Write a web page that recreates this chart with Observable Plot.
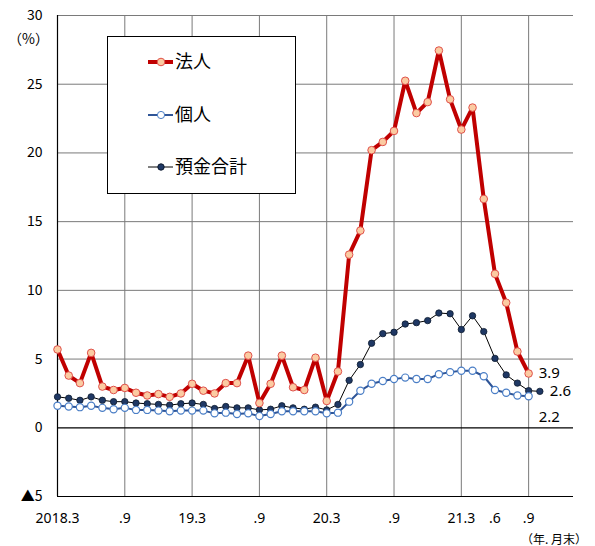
<!DOCTYPE html>
<html>
<head>
<meta charset="utf-8">
<script src="https://cdn.jsdelivr.net/npm/d3@7"></script>
<script src="https://cdn.jsdelivr.net/npm/@observablehq/plot@0.6"></script>
<style>
  html, body { margin: 0; padding: 0; background: #fff; }
  #wrap { position: relative; width: 595px; height: 546px; overflow: hidden; font-family: "Noto Sans", "Noto Sans CJK JP", sans-serif; }
  #wrap svg { display: block; }
  .note { position: absolute; font-size: 14px; color: #000; white-space: nowrap; font-family: "Noto Sans CJK JP", sans-serif; }
  #legend { position: absolute; left: 107px; top: 36px; }
</style>
</head>
<body>
<div id="wrap"></div>
<script>
// ---- data (month index 0 = 2018.3) ----
const seriesNames = ["法人", "個人", "預金合計"];
const corp = [5.7, 3.8, 3.25, 5.45, 3.0, 2.75, 2.9, 2.55, 2.35, 2.45, 2.25, 2.5, 3.2, 2.7, 2.5, 3.25, 3.25,
  5.25, 1.8, 3.2, 5.25, 2.95, 2.75, 5.1, 1.95, 4.1, 12.6, 14.35, 20.2, 20.8, 21.6, 25.25, 22.9, 23.7,
  27.45, 23.9, 21.7, 23.3, 16.65, 11.2, 9.1, 5.55, 3.95];
const indiv = [1.6, 1.55, 1.5, 1.6, 1.45, 1.35, 1.45, 1.3, 1.3, 1.25, 1.2, 1.25, 1.25, 1.25, 1.05, 1.1, 1.0,
  1.05, 0.85, 1.0, 1.2, 1.2, 1.2, 1.2, 1.05, 1.1, 1.9, 2.7, 3.2, 3.4, 3.55, 3.65, 3.55, 3.55, 3.9, 4.05,
  4.15, 4.15, 3.75, 2.75, 2.55, 2.35, 2.3];
const total = [2.25, 2.15, 2.0, 2.25, 2.0, 1.9, 1.9, 1.8, 1.75, 1.7, 1.65, 1.75, 1.8, 1.7, 1.4, 1.55, 1.45,
  1.45, 1.3, 1.35, 1.6, 1.45, 1.35, 1.5, 1.3, 1.7, 3.45, 4.6, 6.15, 6.85, 6.95, 7.55, 7.65, 7.8, 8.35,
  8.3, 7.15, 8.15, 7.0, 5.05, 3.85, 3.25, 2.7, 2.65];
const xTicks = [0, 6, 12, 18, 24, 30, 36, 39, 42];
const xTickLabels = ["2018.3", ".9", "19.3", ".9", "20.3", ".9", "21.3", ".6", ".9"];
const xGrid = [6, 12, 18, 24, 30, 36, 42];
const xDomain = [0, 46];
const yTicks = [-5, 0, 5, 10, 15, 20, 25, 30];
const yTickLabels = ["▲5", "0", "5", "10", "15", "20", "25", "30"];
const endLabels = [
  {series: "法人", idx: 42, text: "3.9"},
  {series: "預金合計", idx: 43, text: "2.6"},
  {series: "個人", idx: 42, text: "2.2"}
];

// ---- build ----
const toRows = arr => arr.map((v, i) => ({i, v}));
const corpRows = toRows(corp), indivRows = toRows(indiv), totalRows = toRows(total);
const lookup = {"法人": corp, "個人": indiv, "預金合計": total};
const labelRows = endLabels.map(d => ({...d, v: lookup[d.series][d.idx]}));

const font = "'Noto Sans', 'Noto Sans CJK JP', sans-serif";

const chart = Plot.plot({
  width: 595,
  height: 546,
  marginLeft: 57,
  marginRight: 22,
  marginTop: 15,
  marginBottom: 50,
  style: {fontFamily: font, fontSize: "14px", color: "#000", background: "#fff"},
  x: {domain: xDomain, axis: null},
  y: {domain: [-5, 30], axis: null},
  marks: [
    Plot.ruleX(xGrid, {stroke: "#7a7a7a", strokeWidth: 1}),
    Plot.ruleY(yTicks.filter(d => d > 0), {stroke: "#7a7a7a", strokeWidth: 1}),
    Plot.ruleY([0, -5], {stroke: "#000", strokeWidth: 1.2}),
    Plot.ruleX([0], {stroke: "#000", strokeWidth: 1.2}),
    Plot.axisY(yTicks, {tickSize: 0, tickPadding: 15, fontSize: 14, label: null,
      fontFamily: "'Noto Sans CJK JP', sans-serif",
      tickFormat: d => yTickLabels[yTicks.indexOf(d)]}),
    Plot.axisX(xTicks, {tickSize: 0, tickPadding: 17, fontSize: 14, label: null,
      tickFormat: d => xTickLabels[xTicks.indexOf(d)]}),
    // 預金合計
    Plot.line(totalRows, {x: "i", y: "v", stroke: "#000", strokeWidth: 1}),
    Plot.dot(totalRows, {x: "i", y: "v", r: 3.2, fill: "#1F3864", stroke: "#0d1a2e", strokeWidth: 0.8}),
    // 個人
    Plot.line(indivRows, {x: "i", y: "v", stroke: "#2F5597", strokeWidth: 2}),
    Plot.dot(indivRows, {x: "i", y: "v", r: 3.6, fill: "#fff", stroke: "#4A7EC6", strokeWidth: 1.2}),
    // 法人
    Plot.line(corpRows, {x: "i", y: "v", stroke: "#C00000", strokeWidth: 4}),
    Plot.dot(corpRows, {x: "i", y: "v", r: 3.8, fill: "#FBCBA2", stroke: "#E0504A", strokeWidth: 1}),
    // end labels
    Plot.text(labelRows.filter(d => d.series !== "個人"), {x: "idx", y: "v", text: "text",
      textAnchor: "start", fontSize: 15, dx: 10}),
    Plot.text(labelRows.filter(d => d.series === "個人"), {x: "idx", y: "v", text: "text",
      textAnchor: "start", fontSize: 15, dx: 10, dy: 21})
  ]
});

const wrap = document.getElementById("wrap");
wrap.appendChild(chart);

// unit and axis title notes
const unit = document.createElement("div");
unit.className = "note";
unit.textContent = "（%）";
unit.style.left = "8px"; unit.style.top = "30px"; unit.style.fontSize = "14px";
unit.style.lineHeight = "16px";
wrap.appendChild(unit);

const xt = document.createElement("div");
xt.className = "note";
xt.textContent = "（年. 月末）";
xt.style.right = "8px"; xt.style.top = "533px"; xt.style.fontSize = "12px";
xt.style.lineHeight = "12px";
wrap.appendChild(xt);

// legend
const legendItems = [
  {name: seriesNames[0], stroke: "#C00000", sw: 4, fill: "#FBCBA2", ms: "#E0504A", r: 3.8},
  {name: seriesNames[1], stroke: "#2F5597", sw: 2, fill: "#fff", ms: "#4A7EC6", r: 3.6},
  {name: seriesNames[2], stroke: "#000", sw: 1, fill: "#1F3864", ms: "#0d1a2e", r: 3.2}
];
const lw = 188, lh = 157;
const lsvg = d3.create("svg").attr("id", "legend").attr("width", lw + 1).attr("height", lh + 1);
lsvg.append("rect").attr("x", 0.5).attr("y", 0.5).attr("width", lw).attr("height", lh)
  .attr("fill", "#fff").attr("stroke", "#000").attr("stroke-width", 1);
const rowY = [26, 79, 131];
legendItems.forEach((d, k) => {
  const g = lsvg.append("g").attr("transform", `translate(0,${rowY[k]})`);
  g.append("line").attr("x1", 41).attr("x2", 66).attr("stroke", d.stroke).attr("stroke-width", d.sw);
  g.append("circle").attr("cx", 54).attr("r", d.r).attr("fill", d.fill).attr("stroke", d.ms).attr("stroke-width", 1);
  g.append("text").attr("x", 68).attr("dy", "0.36em").attr("font-size", 18)
    .attr("font-family", "'Noto Sans CJK JP', sans-serif").attr("fill", "#000").text(d.name);
});
wrap.appendChild(lsvg.node());
</script>
</body>
</html>
